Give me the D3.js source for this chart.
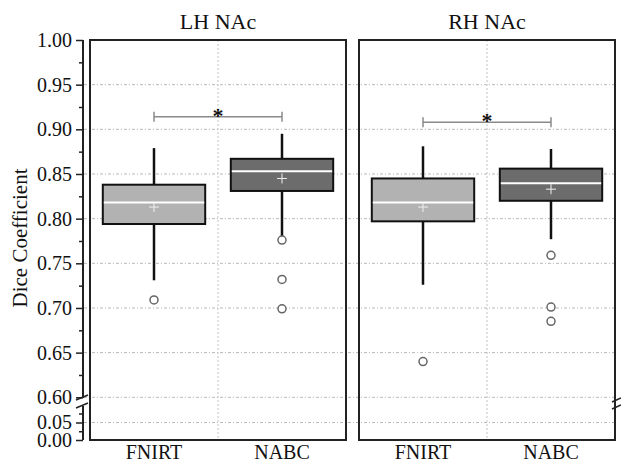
<!DOCTYPE html>
<html>
<head>
<meta charset="utf-8">
<script src="https://cdn.jsdelivr.net/npm/d3@7"></script>
<style>
  body { margin: 0; background: #fff; }
</style>
</head>
<body>
<div id="chart"></div>
<script>
// categories and panels
var categories = ["FNIRT", "NABC"];
var panels = ["LH NAc", "RH NAc"];

// box stats per panel, one value per category
var whiskerHigh = [[0.879, 0.895], [0.881, 0.878]];
var q3 = [[0.838, 0.867], [0.845, 0.856]];
var median = [[0.818, 0.853], [0.818, 0.8395]];
var q1 = [[0.794, 0.831], [0.797, 0.820]];
var whiskerLow = [[0.731, 0.780], [0.726, 0.777]];
var mean = [[0.813, 0.845], [0.813, 0.833]];
var outliers = [[[0.709], [0.776, 0.732, 0.699]], [[0.640], [0.759, 0.701, 0.685]]];
var sigBar = [0.914, 0.908];

var majorTicks = [0.00, 0.05, 0.60, 0.65, 0.70, 0.75, 0.80, 0.85, 0.90, 0.95, 1.00];
var minorTicks = [0.025, 0.075, 0.625, 0.675, 0.725, 0.775, 0.825, 0.875, 0.925, 0.975];
var gridTicks = [0.05, 0.60, 0.65, 0.70, 0.75, 0.80, 0.85, 0.90, 0.95];

var boxColors = ["#b2b2b2", "#6c6c6c"];

var serif = "'Liberation Serif', 'Times New Roman', serif";
var width = 621, height = 464;
var panelX = [90, 359], panelW = 256;
var plotTop = 40, plotBottom = 440;

var svg = d3.select("#chart").append("svg")
  .attr("width", width)
  .attr("height", height);

// broken y scale: 0-0.05 squeezed at the bottom, 0.60-1.00 above
var y = d3.scaleLinear()
  .domain([0, 0.05, 0.075, 0.60, 1.00])
  .range([440, 422.5, 413.5, 397.3, 40]);

var x = d3.scaleBand()
  .domain(categories)
  .range([0, panelW])
  .paddingInner(0.2)
  .paddingOuter(0.1);

// horizontal grid lines (run across the gap between the panels)
svg.append("g").selectAll("line")
  .data(gridTicks)
  .enter().append("line")
    .attr("x1", 84).attr("x2", 615)
    .attr("y1", d => y(d)).attr("y2", d => y(d))
    .style("stroke", "#b8b8b8")
    .style("stroke-width", 1)
    .style("stroke-dasharray", "3,2,1,2");

// y axis, offset from the frame
var axisX = 83;
var yAxis = svg.append("g")
  .attr("transform", "translate(" + axisX + ",0)")
  .call(d3.axisLeft(y).tickValues(majorTicks).tickSize(7).tickPadding(4).tickFormat(d3.format(".2f")));
yAxis.attr("font-family", serif).attr("font-size", 20);
yAxis.select(".domain").remove();
yAxis.selectAll("line").style("stroke", "#222").style("stroke-width", 1.5);
yAxis.selectAll("text").attr("fill", "#111");

var yMinor = svg.append("g")
  .attr("transform", "translate(" + axisX + ",0)")
  .call(d3.axisLeft(y).tickValues(minorTicks).tickSize(4).tickFormat(""));
yMinor.select(".domain").remove();
yMinor.selectAll("line").style("stroke", "#222").style("stroke-width", 1.5);

// axis line with break
svg.append("line").attr("x1", axisX).attr("x2", axisX).attr("y1", plotTop).attr("y2", 398)
  .style("stroke", "#222").style("stroke-width", 2);
svg.append("line").attr("x1", axisX).attr("x2", axisX).attr("y1", 406).attr("y2", plotBottom)
  .style("stroke", "#222").style("stroke-width", 2);
[400, 408].forEach(function(b) {
  svg.append("line").attr("x1", axisX - 7).attr("x2", axisX + 5)
    .attr("y1", b).attr("y2", b - 5)
    .style("stroke", "#222").style("stroke-width", 1.5);
});
// break marks on the right edge
[402, 409].forEach(function(b) {
  svg.append("line").attr("x1", 612).attr("x2", 621)
    .attr("y1", b).attr("y2", b - 4)
    .style("stroke", "#222").style("stroke-width", 1.5);
});

svg.append("text")
  .attr("transform", "translate(27," + 238 + ") rotate(-90)")
  .attr("text-anchor", "middle")
  .attr("font-family", serif)
  .attr("font-size", 21)
  .attr("fill", "#111")
  .text("Dice Coefficient");

panels.forEach(function(name, p) {
  var g = svg.append("g").attr("transform", "translate(" + panelX[p] + ",0)")
    .attr("font-family", serif);

  // vertical center grid line
  g.append("line")
    .attr("x1", panelW / 2).attr("x2", panelW / 2)
    .attr("y1", plotTop).attr("y2", plotBottom)
    .style("stroke", "#c4c4c4")
    .style("stroke-dasharray", "2,2");

  // title
  g.append("text")
    .attr("x", panelW / 2).attr("y", 29)
    .attr("text-anchor", "middle")
    .attr("font-size", 22)
    .attr("fill", "#111")
    .text(name);

  // x labels
  g.selectAll(".xl")
    .data(categories)
    .enter().append("text")
      .attr("x", d => x(d) + x.bandwidth() / 2)
      .attr("y", 459)
      .attr("text-anchor", "middle")
      .attr("font-size", 20)
      .attr("fill", "#111")
      .text(d => d);

  // significance bar
  var c0 = x(categories[0]) + x.bandwidth() / 2;
  var c1 = x(categories[1]) + x.bandwidth() / 2;
  var sy = y(sigBar[p]);
  g.append("path")
    .attr("d", "M" + c0 + "," + (sy - 5) + "V" + (sy + 5) + "M" + c0 + "," + sy + "H" + c1 +
      "M" + c1 + "," + (sy - 5) + "V" + (sy + 5))
    .style("fill", "none")
    .style("stroke", "#8a8a8a")
    .style("stroke-width", 1.5);
  g.append("text")
    .attr("x", (c0 + c1) / 2).attr("y", sy + 6)
    .attr("text-anchor", "middle")
    .attr("font-size", 22)
    .attr("font-weight", "bold")
    .attr("fill", "#111")
    .text("*");

  categories.forEach(function(cat, i) {
    var cx = x(cat) + x.bandwidth() / 2;

    // whiskers
    g.append("line")
      .attr("x1", cx).attr("x2", cx)
      .attr("y1", y(whiskerHigh[p][i])).attr("y2", y(q3[p][i]))
      .style("stroke", "#111").style("stroke-width", 2.5);
    g.append("line")
      .attr("x1", cx).attr("x2", cx)
      .attr("y1", y(q1[p][i])).attr("y2", y(whiskerLow[p][i]))
      .style("stroke", "#111").style("stroke-width", 2.5);

    // box
    g.append("rect")
      .attr("x", x(cat))
      .attr("y", y(q3[p][i]))
      .attr("width", x.bandwidth())
      .attr("height", y(q1[p][i]) - y(q3[p][i]))
      .style("fill", boxColors[i])
      .style("stroke", "#111")
      .style("stroke-width", 2);

    // median
    g.append("line")
      .attr("x1", x(cat) + 1).attr("x2", x(cat) + x.bandwidth() - 1)
      .attr("y1", y(median[p][i])).attr("y2", y(median[p][i]))
      .style("stroke", "#fff").style("stroke-width", 2);

    // mean marker
    var my = y(mean[p][i]);
    g.append("path")
      .attr("d", "M" + (cx - 5) + "," + my + "H" + (cx + 5) + "M" + cx + "," + (my - 5) + "V" + (my + 5))
      .style("stroke", "#f0f0f0").style("stroke-width", 1);

    // outliers
    g.selectAll(".o" + i)
      .data(outliers[p][i])
      .enter().append("circle")
        .attr("cx", cx)
        .attr("cy", d => y(d))
        .attr("r", 4)
        .style("fill", "#fff")
        .style("stroke", "#666")
        .style("stroke-width", 1.5);
  });

  // frame
  g.append("rect")
    .attr("x", 0).attr("y", plotTop)
    .attr("width", panelW).attr("height", plotBottom - plotTop)
    .style("fill", "none")
    .style("stroke", "#222")
    .style("stroke-width", 2);
});
</script>
</body>
</html>
